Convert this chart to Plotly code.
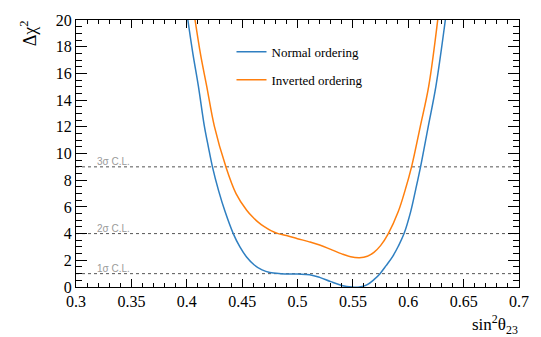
import plotly.graph_objects as go

# Normal ordering (blue)
no_x = [0.401, 0.4055, 0.4105, 0.4159, 0.4195, 0.4231, 0.4288, 0.4346, 0.442, 0.448, 0.454,
        0.461, 0.468, 0.475, 0.485, 0.50, 0.511, 0.52, 0.53, 0.54, 0.549, 0.556, 0.563,
        0.569, 0.5745, 0.58, 0.586, 0.591, 0.5962, 0.6022, 0.6067, 0.6112, 0.618, 0.625,
        0.6335]
no_y = [20, 17.5, 15.05, 12.05, 10.5, 9.04, 7.2, 5.65, 4.0, 3.0, 2.25,
        1.65, 1.28, 1.08, 1.0, 0.97, 0.92, 0.72, 0.4, 0.12, 0.0, 0.0, 0.18,
        0.55, 1.0, 1.6, 2.3, 3.05, 4.0, 5.65, 7.3, 9.04, 12, 15.05,
        20]

# Inverted ordering (orange)
io_x = [0.4075, 0.4125, 0.418, 0.4249, 0.4352, 0.4445, 0.4541, 0.46, 0.465, 0.47,
        0.476, 0.4825, 0.49, 0.50, 0.51, 0.52, 0.53, 0.54, 0.548, 0.556, 0.563, 0.569,
        0.575, 0.582, 0.591, 0.597, 0.6031, 0.6108, 0.6185, 0.6266]
io_y = [20, 17.4, 15.05, 12.05, 9.04, 7.0, 5.75, 5.2, 4.82, 4.52,
        4.22, 4.0, 3.85, 3.62, 3.4, 3.15, 2.82, 2.48, 2.27, 2.2, 2.3, 2.6,
        3.1, 4.0, 5.65, 7.2, 9.04, 12, 15.05, 20]

cl_levels = [1, 4, 9]
cl_labels = ["1σ C.L.", "2σ C.L.", "3σ C.L."]

serif = "Liberation Serif"

fig = go.Figure()
fig.add_trace(go.Scatter(x=no_x, y=no_y, mode="lines", name="Normal ordering",
                         line=dict(color="#2f7fc1", width=1.5, shape="spline", smoothing=1.0),
                         legendgroup="a"))
fig.add_trace(go.Scatter(x=io_x, y=io_y, mode="lines", name="Inverted ordering",
                         line=dict(color="#ff7f0e", width=1.5, shape="spline", smoothing=1.0),
                         legendgroup="b"))

for lvl, lab in zip(cl_levels, cl_labels):
    fig.add_shape(type="line", xref="paper", yref="y", x0=0, x1=1, y0=lvl, y1=lvl,
                  line=dict(color="#555555", width=1, dash="dot"), layer="below")
    fig.add_annotation(x=0.3175, y=lvl, xref="x", yref="y", text=lab, showarrow=False,
                       xanchor="left", yanchor="bottom", yshift=-2,
                       font=dict(family="Liberation Sans", size=10, color="#9a9a9a"))

fig.add_annotation(xref="paper", yref="paper", x=-0.108, y=1.007, text="Δχ<sup>2</sup>",
                   textangle=-90, showarrow=False, xanchor="center", yanchor="top",
                   font=dict(family=serif, size=18, color="black"))
fig.add_annotation(xref="paper", yref="paper", x=1.002, y=-0.088, text="sin<sup>2</sup>θ<sub>23</sub>",
                   showarrow=False, xanchor="right", yanchor="top",
                   font=dict(family=serif, size=17, color="black"))

axis_common = dict(showgrid=False, zeroline=False, showline=True, linecolor="black",
                   linewidth=1.2, mirror="allticks", ticks="inside", tickcolor="black",
                   tickwidth=1, tickfont=dict(family=serif, size=16, color="black"))

fig.update_xaxes(range=[0.3, 0.7], dtick=0.05, tick0=0.3, ticklen=8,
                 minor=dict(dtick=0.01, ticklen=4, ticks="inside", tickcolor="black"),
                 **axis_common)
fig.update_yaxes(range=[0, 20], dtick=2, tick0=0, ticklen=11,
                 minor=dict(dtick=0.5, ticklen=6, ticks="inside", tickcolor="black"),
                 **axis_common)

fig.update_layout(
    width=541, height=337,
    margin=dict(l=76, r=22, t=12, b=50),
    plot_bgcolor="white", paper_bgcolor="white",
    showlegend=True,
    legend=dict(x=0.351, y=0.937, xanchor="left", yanchor="top",
                font=dict(family=serif, size=13, color="black"),
                bgcolor="rgba(0,0,0,0)", tracegroupgap=8),
)

fig.write_html("out.html", config={"displayModeBar": False},
               post_script="document.body.style.margin='0';document.body.style.overflow='hidden';")
